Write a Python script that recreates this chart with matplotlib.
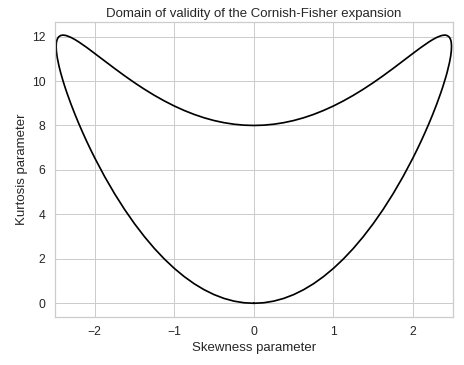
import matplotlib
matplotlib.use("Agg")
import matplotlib.pyplot as plt
import seaborn as sns

# Boundary of the Cornish-Fisher validity domain
# (closed loop: right lower -> right upper -> left upper -> left lower)
skew = [0, 0.125, 0.25, 0.375, 0.5, 0.625, 0.75, 0.875, 1.0, 1.125, 1.25, 1.375, 1.5, 1.625, 1.75, 1.875,
        2.0, 2.05, 2.1, 2.15, 2.2, 2.25, 2.3, 2.35, 2.375, 2.4, 2.415, 2.43, 2.45, 2.46, 2.47, 2.475, 2.48, 2.483, 2.4853,
        2.483, 2.48, 2.475, 2.47, 2.46, 2.45, 2.43, 2.415, 2.4, 2.375, 2.35, 2.3, 2.25, 2.2, 2.15, 2.1, 2.05, 2.0,
        1.875, 1.75, 1.625, 1.5, 1.375, 1.25, 1.125, 1.0, 0.875, 0.75, 0.625, 0.5, 0.375, 0.25, 0.125, 0,
        -0.125, -0.25, -0.375, -0.5, -0.625, -0.75, -0.875, -1.0, -1.125, -1.25, -1.375, -1.5, -1.625, -1.75, -1.875,
        -2.0, -2.05, -2.1, -2.15, -2.2, -2.25, -2.3, -2.35, -2.375, -2.4, -2.415, -2.43, -2.45, -2.46, -2.47, -2.475, -2.48, -2.483,
        -2.4853, -2.483, -2.48, -2.475, -2.47, -2.46, -2.45, -2.43, -2.415, -2.4, -2.375, -2.35, -2.3, -2.25, -2.2, -2.15, -2.1, -2.05,
        -2.0, -1.875, -1.75, -1.625, -1.5, -1.375, -1.25, -1.125, -1.0, -0.875, -0.75, -0.625, -0.5, -0.375, -0.25, -0.125, 0]
kurt = [0, 0.024, 0.097, 0.219, 0.390, 0.610, 0.879, 1.199, 1.569, 1.991, 2.465, 2.994, 3.578, 4.220, 4.924, 5.694,
        6.537, 6.898, 7.273, 7.666, 8.076, 8.509, 8.969, 9.465, 9.732, 10.016, 10.197, 10.390, 10.675, 10.836, 11.020, 11.129, 11.260, 11.367, 11.549,
        11.704, 11.774, 11.845, 11.893, 11.957, 11.998, 12.044, 12.060, 12.065, 12.057, 12.034, 11.962, 11.866, 11.755, 11.634, 11.507, 11.375, 11.241,
        10.900, 10.563, 10.235, 9.922, 9.628, 9.354, 9.103, 8.875, 8.673, 8.496, 8.345, 8.221, 8.125, 8.056, 8.014, 8.0,
        8.014, 8.056, 8.125, 8.221, 8.345, 8.496, 8.673, 8.875, 9.103, 9.354, 9.628, 9.922, 10.235, 10.563, 10.900,
        11.241, 11.375, 11.507, 11.634, 11.755, 11.866, 11.962, 12.034, 12.057, 12.065, 12.060, 12.044, 11.998, 11.957, 11.893, 11.845, 11.774, 11.704,
        11.549, 11.367, 11.260, 11.129, 11.020, 10.836, 10.675, 10.390, 10.197, 10.016, 9.732, 9.465, 8.969, 8.509, 8.076, 7.666, 7.273, 6.898,
        6.537, 5.694, 4.924, 4.220, 3.578, 2.994, 2.465, 1.991, 1.569, 1.199, 0.879, 0.610, 0.390, 0.219, 0.097, 0.024, 0]

sns.set_theme(style="whitegrid")
plt.rcParams["font.family"] = ["Liberation Sans", "DejaVu Sans"]

fig = plt.figure(figsize=(464 / 72, 365 / 72), dpi=72)
ax = fig.add_axes([55 / 464, 1 - 316.7 / 365, 397.7 / 464, 295 / 365])

ax.plot(skew, kurt, color="black", linewidth=1.7)
ax.set_xlim(-2.5, 2.5)

ax.set_title("Domain of validity of the Cornish-Fisher expansion", fontsize=13.2, pad=5)
ax.set_xlabel("Skewness parameter", fontsize=13.2)
ax.set_ylabel("Kurtosis parameter", fontsize=13.2)
ax.tick_params(labelsize=12.1)

fig.savefig("out.png", dpi=72)
